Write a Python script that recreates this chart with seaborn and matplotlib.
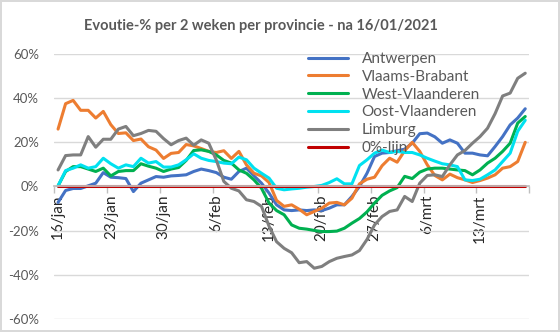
import numpy as np
import pandas as pd
import matplotlib
matplotlib.use("Agg")
import matplotlib.pyplot as plt
import seaborn as sns

# Daily categories 16/01/2021 .. 19/03/2021
dates = pd.date_range("2021-01-16", "2021-03-19", freq="D")
tick_labels = ["16/jan", "23/jan", "30/jan", "6/feb", "13/feb",
               "20/feb", "27/feb", "6/mrt", "13/mrt"]

series_names = ["Antwerpen", "Vlaams-Brabant", "West-Vlaanderen",
                "Oost-Vlaanderen", "Limburg", "0%-lijn"]

antwerpen = [-7.2, -1.8, -0.9, -0.9, 0.3, 1.5, 6.3, 4.2, 4.0, 3.6,
             -2.3, 1.5, 3.0, 4.5, 4.2, 4.8, 5.0, 5.3, 6.8, 7.9,
             7.2, 6.3, 4.2, 3.3, 6.8, 8.3, 4.8, 1.5, -3.0, -8.3,
             -10.6, -10.9, -10.6, -10.9, -10.6, -10.9, -9.8, -8.3, -8.3, -4.5,
             0.0, 6.0, 13.6, 15.1, 15.4, 16.2, 16.9, 19.6, 23.9, 24.2,
             22.5, 19.6, 21.1, 19.6, 15.1, 15.1, 14.3, 13.9, 18.1, 22.6,
             27.9, 31.0, 35.2]

vlaams_brabant = [26.0, 37.5, 39.0, 34.5, 34.5, 31.0, 34.0, 28.0, 24.0, 24.3,
                  20.8, 21.5, 18.0, 16.5, 12.7, 15.0, 15.4, 19.0, 18.4, 17.2,
                  15.9, 15.4, 16.2, 12.7, 15.9, 9.8, 6.0, 4.8, 1.8, -6.3,
                  -9.0, -8.3, -10.3, -12.8, -11.3, -9.8, -7.5, -7.2, -8.3, -5.3,
                  1.2, 3.3, 4.2, 9.4, 12.8, 11.0, 16.2, 20.0, 15.9, 9.8,
                  5.0, 3.0, 5.6, 4.0, 3.0, 1.8, 2.7, 3.8, 5.3, 8.3,
                  9.0, 11.3, 20.0]

west_vlaanderen = [0.3, 6.8, 9.0, 9.0, 7.9, 6.8, 8.3, 4.8, 6.8, 7.2,
                   7.2, 10.3, 9.2, 8.3, 6.8, 7.9, 8.6, 11.8, 16.3, 16.6,
                   15.9, 14.3, 11.8, 10.6, 7.5, 6.0, 3.0, -0.8, -7.5, -10.9,
                   -12.8, -17.4, -18.9, -19.3, -19.9, -20.4, -20.4, -20.2, -18.9, -16.6,
                   -14.5, -11.5, -7.5, -4.0, -2.0, -0.5, 4.6, 3.6, 6.5, 7.9,
                   8.3, 8.3, 7.9, 7.5, 7.2, 5.3, 7.5, 10.6, 12.8, 15.9,
                   19.6, 28.7, 31.7]

oost_vlaanderen = [0.3, 7.2, 8.3, 9.8, 8.3, 9.0, 12.8, 10.3, 8.3, 9.8,
                   9.0, 12.8, 10.6, 11.3, 8.8, 8.8, 9.8, 12.1, 14.8, 12.8,
                   11.8, 11.3, 10.6, 10.3, 13.3, 12.1, 8.3, 6.0, 3.8, -0.8,
                   -1.5, -1.1, -0.8, -0.3, 0.0, 0.5, 1.8, 3.5, 1.2, 1.2,
                   9.5, 12.1, 15.1, 16.5, 15.4, 15.9, 15.4, 15.4, 14.3, 12.8,
                   11.5, 10.3, 9.8, 9.0, 3.0, 2.7, 3.3, 5.3, 7.5, 11.3,
                   15.1, 25.0, 30.0]

limburg = [7.5, 14.0, 14.3, 14.3, 22.6, 17.8, 21.4, 21.4, 26.0, 27.2,
           23.0, 24.0, 25.4, 25.0, 21.7, 18.9, 20.8, 21.9, 18.7, 21.1,
           19.6, 12.0, 2.3, -0.8, -2.0, -6.0, -6.8, -9.0, -18.0, -25.0,
           -28.0, -30.0, -34.5, -34.0, -37.0, -36.2, -34.0, -32.5, -31.7, -31.0,
           -29.0, -24.0, -17.4, -13.6, -11.3, -10.6, -4.5, -6.8, 1.5, 5.0,
           5.3, 4.5, 9.8, 14.3, 16.3, 19.6, 22.6, 26.4, 33.0, 41.0,
           42.3, 49.0, 51.3]

nul_lijn = [0.0] * len(dates)

colors = ["#4472C4", "#ED7D31", "#00B050", "#00E1F0", "#7F7F7F", "#C00000"]

values = [antwerpen, vlaams_brabant, west_vlaanderen,
          oost_vlaanderen, limburg, nul_lijn]

day_index = np.arange(len(dates))
frames = []
for name, vals in zip(series_names, values):
    frames.append(pd.DataFrame({"dag": day_index, "evolutie": vals, "reeks": name}))
df = pd.concat(frames, ignore_index=True)

sns.set_theme(style="white")
plt.rcParams["font.family"] = ["Lato", "DejaVu Sans"]

text_color = "#595959"
grid_color = "#D9D9D9"

fig = plt.figure(figsize=(5.6, 3.32), dpi=100)
ax = fig.add_axes([54.3 / 560, 1 - 319 / 332, (529 - 54.3) / 560, (319 - 54) / 332])

sns.lineplot(data=df, x="dag", y="evolutie", hue="reeks", hue_order=series_names,
             palette=colors, linewidth=2.2, sort=False, estimator=None,
             ax=ax, legend=True)

ax.set_xlim(-0.5, len(dates) - 0.5)
ax.set_ylim(-60, 60)
ax.set_xlabel("")
ax.set_ylabel("")

# y axis: percentage labels and horizontal gridlines
yticks = np.arange(-60, 61, 20)
ax.set_yticks(yticks)
ax.set_yticklabels([f"{v}%" for v in yticks], color=text_color, fontsize=9.5)
ax.yaxis.grid(True, color=grid_color, linewidth=1)
ax.set_axisbelow(True)
ax.tick_params(axis="y", length=0, pad=11)

# x axis: category axis crossing at 0%, labels every 7 days, ticks between categories
ax.set_xticks(np.arange(0, len(dates), 7))
ax.set_xticklabels(tick_labels, color=text_color, fontsize=9.5)
ax.set_xticks(np.arange(-0.5, len(dates), 7), minor=True)
ax.tick_params(axis="x", which="major", length=0, pad=6, labelrotation=90)
ax.tick_params(axis="x", which="minor", length=5, width=1, color="#BFBFBF",
               direction="out", bottom=True)
for lbl in ax.get_xticklabels():
    lbl.set_rotation(90)
    lbl.set_ha("center")
    lbl.set_va("top")

for side in ["top", "right", "left"]:
    ax.spines[side].set_visible(False)
ax.spines["bottom"].set_position(("data", 0))
ax.spines["bottom"].set_color("#BFBFBF")

handles, labels = ax.get_legend_handles_labels()
ax.legend(handles, labels, loc="upper left",
          bbox_to_anchor=(308 / 560, 1 - 52 / 332), bbox_transform=fig.transFigure,
          frameon=False, fontsize=11, labelcolor=text_color,
          handlelength=2.6, handletextpad=0.9, labelspacing=0.25,
          borderpad=0, borderaxespad=0)

fig.text(261 / 560, 1 - 26 / 332, "Evoutie-% per 2 weken per provincie - na 16/01/2021",
         ha="center", va="center", fontsize=10.5, fontweight="bold", color=text_color)

fig.patch.set_facecolor("white")
fig.patch.set_edgecolor(grid_color)
fig.patch.set_linewidth(1.5)

fig.savefig("out.png", dpi=100, facecolor=fig.get_facecolor(),
            edgecolor=fig.get_edgecolor())
